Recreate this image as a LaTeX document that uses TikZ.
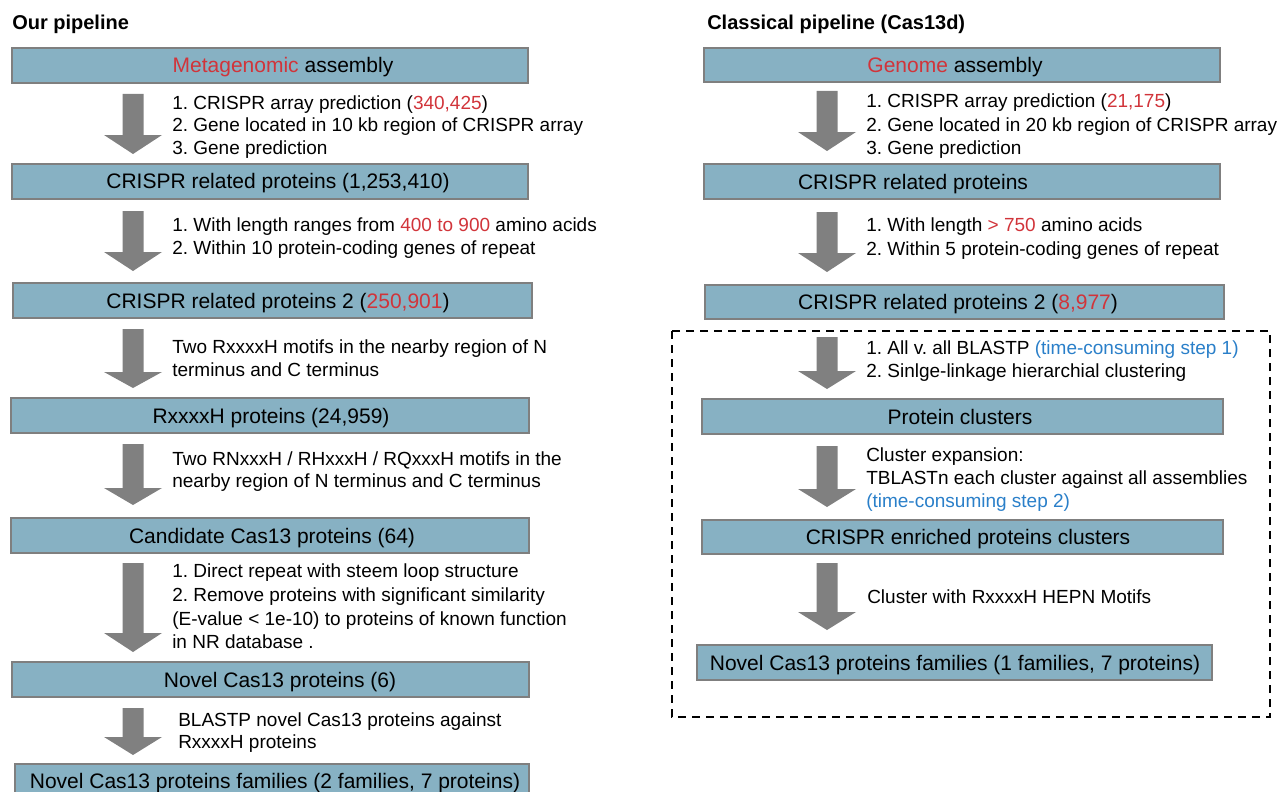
\documentclass[tikz,border=0pt]{standalone}
\usepackage{fontspec}
\setmainfont{Liberation Sans}
\usetikzlibrary{calc}
\frenchspacing
\definecolor{boxfill}{HTML}{87B1C3}
\definecolor{boxborder}{HTML}{7F7F7F}
\definecolor{arrowgray}{HTML}{808080}
\definecolor{hlred}{HTML}{D1343A}
\definecolor{hlblue}{HTML}{2A7FC9}
\newcommand\rd[1]{\textcolor{hlred}{#1}}
\newcommand\bl[1]{\textcolor{hlblue}{#1}}
% box: name, x1, y1, x2, y2
\newcommand\stepbx[5]{\node[box, minimum width={(#4-#2)*0.75pt}, minimum height={(#5-#3)*0.75pt}] (#1) at ({(#2+#4)/2},{(#3+#5)/2}) {};}
% block arrow: x, shaft top, head top, tip
\newcommand\blockarr[4]{\fill[arrowgray] (#1-10.5,#2) -- (#1+10.5,#2) -- (#1+10.5,#3) -- (#1+29,#3) -- (#1,#4) -- (#1-29,#3) -- (#1-10.5,#3) -- cycle;}
\tikzset{
  box/.style={draw=boxborder, line width=1.7pt, fill=boxfill, inner sep=0pt, outer sep=0pt},
  boxtxt/.style={font=\fontsize{15.75pt}{18pt}\selectfont\frenchspacing, anchor=base, inner sep=0pt},
  note/.style={font=\fontsize{14.25pt}{17pt}\selectfont\frenchspacing, anchor=base west, inner sep=0pt},
  ttl/.style={font=\fontsize{15pt}{18pt}\selectfont\bfseries, anchor=base west, inner sep=0pt},
  dashbox/.style={draw=black, line width=1.9pt, dash pattern=on 6pt off 4.5pt}
}
\begin{document}
\begin{tikzpicture}[x=0.75pt,y=-0.75pt]
\useasboundingbox (0,0) rectangle (1285,792);
% titles
\node[ttl] (t1) at (12,30) {Our pipeline};
\node[ttl] (t2) at (707,30) {Classical pipeline (Cas13d)};

% ---------------- left pipeline ----------------
\stepbx{L1}{12}{48}{528}{83}
\node[boxtxt] (L1t) at (283,73) {\rd{Metagenomic} assembly};
\blockarr{133}{94}{135}{154}
\node[note] (a1) at (172,109) {1. CRISPR array prediction (\rd{340,425})};
\node[note] (a2) at (172,132) {2. Gene located in 10 kb region of CRISPR array};
\node[note] (a3) at (172,154) {3. Gene prediction};

\stepbx{L2}{12}{164}{528}{199}
\node[boxtxt] (L2t) at (278,188.5) {CRISPR related proteins (1,253,410)};
\blockarr{133}{211}{252}{271}
\node[note] (b1) at (172,231) {1. With length ranges from \rd{400 to 900} amino acids};
\node[note] (b2) at (172,254) {2. Within 10 protein-coding genes of repeat};

\stepbx{L3}{13}{283}{532}{318}
\node[boxtxt] (L3t) at (278,308) {CRISPR related proteins 2 (\rd{250,901})};
\blockarr{133}{329}{372}{388}
\node[note] (c1) at (172,353) {Two RxxxxH motifs in the nearby region of N};
\node[note] (c2) at (172,376) {terminus and C terminus};

\stepbx{L4}{11}{398}{529}{433}
\node[boxtxt] (L4t) at (271,423) {RxxxxH proteins (24,959)};
\blockarr{133}{444}{488}{505}
\node[note] (d1) at (172,465) {Two RNxxxH / RHxxxH / RQxxxH motifs in the};
\node[note] (d2) at (172,487) {nearby region of N terminus and C terminus};

\stepbx{L5}{11}{518}{529}{553}
\node[boxtxt] (L5t) at (272,543) {Candidate Cas13 proteins (64)};
\blockarr{133}{563}{633}{652}
\node[note] (e1) at (172,577) {1. Direct repeat with steem loop structure};
\node[note] (e2) at (172,601) {2. Remove proteins with significant similarity};
\node[note] (e3) at (172,625) {(E-value < 1e-10) to proteins of known function};
\node[note] (e4) at (172,648) {in NR database .};

\stepbx{L6}{12}{662}{529}{697}
\node[boxtxt] (L6t) at (280,687) {Novel Cas13 proteins (6)};
\blockarr{133}{708}{737}{755}
\node[note] (f1) at (178,726) {BLASTP novel Cas13 proteins against};
\node[note] (f2) at (178,748) {RxxxxH proteins};

\stepbx{L7}{15}{764}{529}{799}
\node[boxtxt] (L7t) at (275,788) {Novel Cas13 proteins families (2 families, 7 proteins)};

% ---------------- right pipeline ----------------
\stepbx{R1}{704}{48}{1220}{82}
\node[boxtxt] (R1t) at (955,72.5) {\rd{Genome} assembly};
\blockarr{827}{91}{132}{151}
\node[note] (g1) at (866,108) {1. CRISPR array prediction (\rd{21,175})};
\node[note] (g2) at (866,131) {2. Gene located in 20 kb region of CRISPR array};
\node[note] (g3) at (866,154) {3. Gene prediction};

\stepbx{R2}{704}{164}{1220}{199}
\node[boxtxt] (R2t) at (913,189) {CRISPR related proteins};
\blockarr{827}{212}{253}{272}
\node[note] (h1) at (866,231) {1. With length \rd{> 750} amino acids};
\node[note] (h2) at (866,255) {2. Within 5 protein-coding genes of repeat};

\stepbx{R3}{705}{285}{1224}{319}
\node[boxtxt] (R3t) at (958,309.5) {CRISPR related proteins 2 (\rd{8,977})};

\draw[dashbox] (672,331) rectangle (1270,717);

\blockarr{827}{337}{371}{389}
\node[note] (i1) at (866,354) {1. All v. all BLASTP \bl{(time-consuming step 1)}};
\node[note] (i2) at (866,377) {2. Sinlge-linkage hierarchial clustering};

\stepbx{R4}{702}{399}{1223}{434}
\node[boxtxt] (R4t) at (960,424) {Protein clusters};
\blockarr{827}{446}{489}{507}
\node[note] (j1) at (866,461) {Cluster expansion:};
\node[note] (j2) at (866,484) {TBLASTn each cluster against all assemblies};
\node[note] (j3) at (866,507) {\bl{(time-consuming step 2)}};

\stepbx{R5}{702}{520}{1223}{554}
\node[boxtxt] (R5t) at (968,544.5) {CRISPR enriched proteins clusters};
\blockarr{827}{563}{612}{630}
\node[note] (k1) at (867,603) {Cluster with RxxxxH HEPN Motifs};

\stepbx{R6}{697}{645}{1212}{680}
\node[boxtxt] (R6t) at (955,670) {Novel Cas13 proteins families (1 families, 7 proteins)};
\end{tikzpicture}
\end{document}
